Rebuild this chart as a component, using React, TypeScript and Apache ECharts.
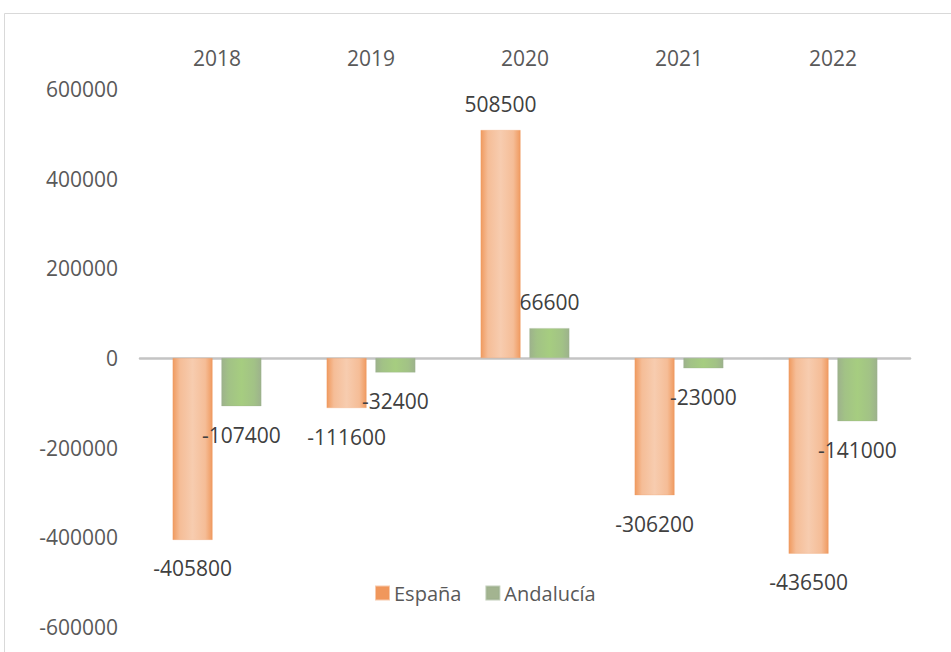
import React, { useEffect, useRef } from "react";
import * as echarts from "echarts";

const categories = ["2018", "2019", "2020", "2021", "2022"];
const espana = [-405800, -111600, 508500, -306200, -436500];
const andalucia = [-107400, -32400, 66600, -23000, -141000];
const seriesNames = ["España", "Andalucía"];

const FONT = "'Open Sans', 'Noto Sans', sans-serif";

function hGrad(edge: string, mid: string, center: string) {
  return new echarts.graphic.LinearGradient(0, 0, 1, 0, [
    { offset: 0, color: edge },
    { offset: 0.18, color: mid },
    { offset: 0.5, color: center },
    { offset: 0.82, color: mid },
    { offset: 1, color: edge },
  ]);
}

function makeData(values: number[]) {
  return values.map((v) => ({
    value: v,
    label: { distance: v < 0 ? 18 : 16 },
  }));
}

export default function App() {
  const ref = useRef<HTMLDivElement>(null);
  useEffect(() => {
    if (!ref.current) return;
    const chart = echarts.init(ref.current, undefined, { renderer: "svg" });
    const labelStyle = {
      show: true,
      position: "outside" as any,
      color: "#404040",
      fontFamily: FONT,
      fontSize: 21,
    };
    chart.setOption({
      animation: false,
      backgroundColor: "#ffffff",
      graphic: [
        {
          type: "rect",
          shape: { x: 4.5, y: 13.5, width: 1200, height: 1200 },
          style: { fill: "none", stroke: "#D9D9D9", lineWidth: 1 },
          silent: true,
        },
      ],
      grid: { left: 140, right: 41, top: 89, bottom: 25, containLabel: false },
      legend: {
        left: 370,
        top: 578,
        icon: "rect",
        itemWidth: 13,
        itemHeight: 13,
        itemGap: 24,
        textStyle: { color: "#595959", fontFamily: FONT, fontSize: 20 },
        data: [
          { name: seriesNames[0], itemStyle: { color: "#F0975C" } },
          { name: seriesNames[1], itemStyle: { color: "#A3B490" } },
        ],
      },
      xAxis: [
        {
          type: "category",
          data: categories,
          position: "top",
          axisLine: { show: false, onZero: false },
          axisTick: { show: false },
          axisLabel: { color: "#595959", fontFamily: FONT, fontSize: 21, margin: 21 },
        },
        {
          type: "category",
          data: categories,
          position: "bottom",
          axisLine: { show: true, onZero: true, lineStyle: { color: "#C4C4C4", width: 2.5 } },
          axisTick: { show: false },
          axisLabel: { show: false },
        },
      ],
      yAxis: {
        type: "value",
        min: -600000,
        max: 600000,
        interval: 200000,
        axisLine: { show: false },
        axisTick: { show: false },
        splitLine: { show: false },
        axisLabel: {
          color: "#595959",
          fontFamily: FONT,
          fontSize: 21,
          margin: 22,
          formatter: (v: number) => String(v),
        },
      },
      series: [
        {
          name: seriesNames[0],
          type: "bar",
          xAxisIndex: 0,
          barWidth: 40,
          barGap: "22%",
          data: makeData(espana),
          itemStyle: {
            color: hGrad("#F09A5F", "#F5BD97", "#F7CCAF"),
            borderColor: "rgba(240,150,90,0.5)",
            borderWidth: 0.5,
          },
          label: labelStyle,
        },
        {
          name: seriesNames[1],
          type: "bar",
          xAxisIndex: 0,
          barWidth: 40,
          data: makeData(andalucia),
          itemStyle: {
            color: hGrad("#9DB28C", "#A2C286", "#A6CD80"),
            borderColor: "rgba(155,175,140,0.6)",
            borderWidth: 0.5,
          },
          label: labelStyle,
        },
      ],
    });
    return () => chart.dispose();
  }, []);
  return (
    <div
      ref={ref}
      style={{ position: "fixed", left: 0, top: 0, width: 951, height: 652 }}
    />
  );
}
